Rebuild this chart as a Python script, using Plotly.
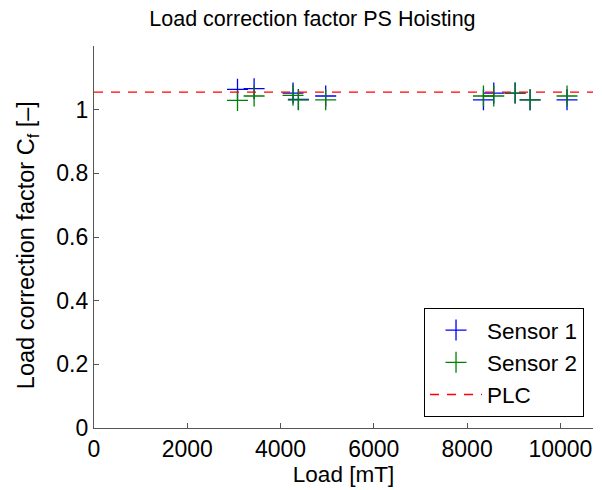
import plotly.graph_objects as go

# Data
load_s1 = [3077, 3433, 4268, 4383, 4968, 8351, 8572, 9030, 9351, 10143]
cf_s1 = [1.064, 1.066, 1.052, 1.032, 1.043, 1.031, 1.052, 1.052, 1.031, 1.031]
load_s2 = [3077, 3433, 4268, 4383, 4968, 8351, 8572, 9030, 9351, 10143]
cf_s2 = [1.029, 1.043, 1.045, 1.031, 1.031, 1.043, 1.043, 1.052, 1.031, 1.043]
plc_value = 1.055
x_range = [0, 10700]
y_range = [0, 1.2]
x_ticks = [0, 2000, 4000, 6000, 8000, 10000]
x_tick_text = ["0", "2000", "4000", "6000", "8000", "10000"]
y_ticks = [0, 0.2, 0.4, 0.6, 0.8, 1]
y_tick_text = ["0", "0.2", "0.4", "0.6", "0.8", "1"]

font_family = "Liberation Sans, Arial, sans-serif"

fig = go.Figure()
fig.add_trace(go.Scatter(
    x=load_s1, y=cf_s1, mode="markers", name="Sensor 1",
    marker=dict(symbol="cross-thin-open", size=15, color="blue",
                line=dict(color="blue", width=1.3)),
))
fig.add_trace(go.Scatter(
    x=load_s2, y=cf_s2, mode="markers", name="Sensor 2",
    marker=dict(symbol="cross-thin-open", size=15, color="green",
                line=dict(color="green", width=1.3)),
))
fig.add_trace(go.Scatter(
    x=x_range, y=[plc_value, plc_value], mode="lines", name="PLC",
    line=dict(color="red", width=1.4, dash="9px,8px"),
))

axis_common = dict(
    showgrid=False, zeroline=False, showline=True, linecolor="#555555",
    linewidth=1.2, ticks="inside", ticklen=5, tickcolor="#555555",
    tickfont=dict(size=23, color="black", family=font_family),
    mirror=False,
)

fig.update_layout(
    width=602, height=490,
    margin=dict(l=94, r=9, t=46, b=62),
    paper_bgcolor="white", plot_bgcolor="white",
    font=dict(family=font_family, color="black"),
    title=dict(text="Load correction factor PS Hoisting", x=0.519, xanchor="center",
               y=0.963, yanchor="middle", font=dict(size=21.5, color="black")),
    xaxis=dict(range=x_range, tickvals=x_ticks, ticktext=x_tick_text,
               title=dict(text="Load [mT]", font=dict(size=22.5), standoff=2),
               **axis_common),
    yaxis=dict(range=y_range, tickvals=y_ticks, ticktext=y_tick_text,
               **axis_common),
    legend=dict(x=0.982, y=0.029, xanchor="right", yanchor="bottom",
                bgcolor="white", bordercolor="black", borderwidth=1,
                font=dict(size=22.5, color="black"), tracegroupgap=0,
                itemwidth=52),
    showlegend=True,
)

fig.add_annotation(
    text="Load correction factor C<sub>f</sub> [–]", textangle=-90,
    xref="paper", yref="paper", x=-0.134, y=0.479,
    xanchor="center", yanchor="middle", showarrow=False,
    font=dict(size=23.5, color="black", family=font_family),
)

fig.write_html("out.html")
